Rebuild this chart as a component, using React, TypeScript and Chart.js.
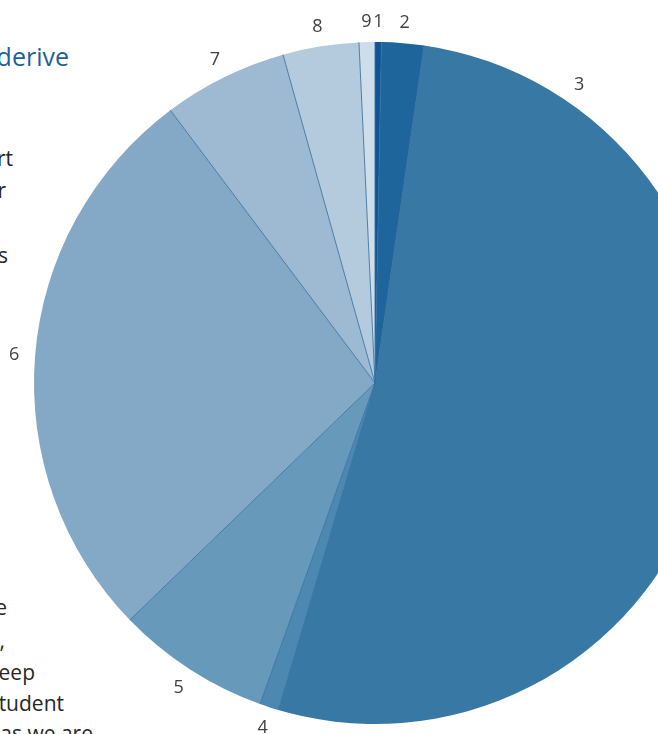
import React, { useEffect, useRef } from "react";
import { Chart, registerables } from "chart.js";

Chart.register(...registerables);

const categories = ["1", "2", "3", "4", "5", "6", "7", "8", "9"];
const shares = [0.3, 2.0, 52.3, 0.9, 7.3, 27.0, 5.9, 3.6, 0.75];
const sliceColors = [
  "#0f5493",
  "#1e659b",
  "#3878a4",
  "#4d88b1",
  "#6799bb",
  "#83a9c6",
  "#9dbad2",
  "#b4cbdd",
  "#cddde9",
];

// visible fragments of the surrounding document text
const docHeading = { text: "derive", right: 69, top: 39 };
const docLines = [
  { text: "rt", right: 13, top: 144 },
  { text: "r", right: 6, top: 176 },
  { text: "s", right: 8, top: 241 },
  { text: "e", right: 7, top: 593 },
  { text: ",", right: 5, top: 626 },
  { text: "eep", right: 35, top: 658 },
  { text: "tudent", right: 64, top: 689 },
  { text: "as we are", right: 93, top: 719 },
];

const W = 658;
const H = 734;

const labelPlugin = {
  id: "outerLabels",
  afterDatasetsDraw(chart: any) {
    const ctx = chart.ctx;
    const meta = chart.getDatasetMeta(0);
    ctx.save();
    // slice separators (radial lines only)
    ctx.strokeStyle = "rgba(50,110,160,0.85)";
    ctx.lineWidth = 1;
    meta.data.forEach((arc: any) => {
      const { x, y, startAngle, outerRadius } = arc;
      ctx.beginPath();
      ctx.moveTo(x, y);
      ctx.lineTo(x + Math.cos(startAngle) * outerRadius, y + Math.sin(startAngle) * outerRadius);
      ctx.stroke();
    });
    ctx.font = '18px "Open Sans", sans-serif';
    ctx.fillStyle = "#404040";
    ctx.textAlign = "center";
    ctx.textBaseline = "middle";
    meta.data.forEach((arc: any, i: number) => {
      const { x, y, startAngle, endAngle, outerRadius } = arc;
      const lr = outerRadius + 21;
      const steps = 300;
      let a0: number | null = null;
      let a1: number | null = null;
      for (let s = 0; s <= steps; s++) {
        const a = startAngle + ((endAngle - startAngle) * s) / steps;
        const px = x + Math.cos(a) * outerRadius;
        const py = y + Math.sin(a) * outerRadius;
        const vis = px >= 0 && px <= W + 15 && py >= 0 && py <= H;
        if (vis) {
          if (a0 === null) a0 = a;
          a1 = a;
        } else if (a0 !== null) break;
      }
      if (a0 === null || a1 === null) return;
      const mid = (a0 + a1) / 2;
      ctx.fillText(categories[i], x + Math.cos(mid) * lr, y + Math.sin(mid) * lr + 1);
    });
    ctx.restore();
  },
};

export default function App() {
  const ref = useRef<HTMLCanvasElement | null>(null);
  useEffect(() => {
    if (!ref.current) return;
    const chart = new Chart(ref.current, {
      type: "pie",
      data: {
        labels: categories,
        datasets: [
          {
            data: shares,
            backgroundColor: sliceColors,
            borderWidth: 0,
          },
        ],
      },
      options: {
        responsive: false,
        animation: false,
        radius: 341,
        layout: { padding: { left: 34, top: 42, right: 44, bottom: 46 } },
        plugins: {
          legend: { display: false },
          tooltip: { enabled: false },
        },
      } as any,
      plugins: [labelPlugin],
    });
    return () => chart.destroy();
  }, []);

  return (
    <div
      style={{
        position: "fixed",
        left: 0,
        top: 0,
        width: W,
        height: H,
        overflow: "hidden",
        background: "#ffffff",
      }}
    >
      <div
        style={{
          position: "absolute",
          right: W - docHeading.right,
          top: docHeading.top,
          whiteSpace: "nowrap",
          font: '25px "Open Sans", sans-serif',
          color: "#1f5f98",
          lineHeight: "34px",
        }}
      >
        {docHeading.text}
      </div>
      {docLines.map((l, i) => (
        <div
          key={i}
          style={{
            position: "absolute",
            right: W - l.right,
            top: l.top,
            whiteSpace: "nowrap",
            font: '21px "Open Sans", sans-serif',
            color: "#262626",
            lineHeight: "28px",
          }}
        >
          {l.text}
        </div>
      ))}
      <canvas
        ref={ref}
        width={760}
        height={770}
        style={{ position: "absolute", left: 0, top: 0 }}
      />
    </div>
  );
}
